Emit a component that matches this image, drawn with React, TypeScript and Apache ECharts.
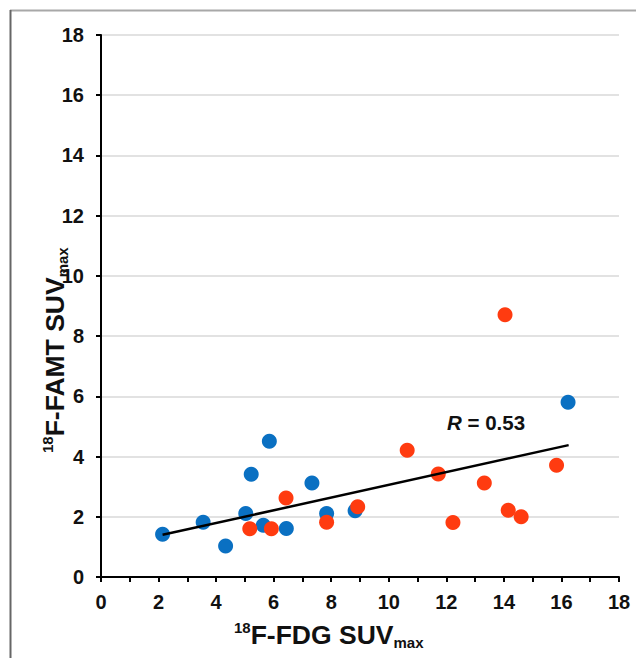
import React, { useEffect, useRef } from "react";
import * as echarts from "echarts";

const blueX = [2.14, 3.55, 4.33, 5.03, 5.22, 5.64, 5.85, 6.44, 7.33, 7.84, 8.83, 16.23];
const blueY = [1.42, 1.82, 1.03, 2.11, 3.41, 1.72, 4.51, 1.61, 3.12, 2.11, 2.2, 5.8];
const redX = [5.17, 5.92, 6.43, 7.84, 8.92, 10.64, 11.72, 12.23, 13.32, 14.04, 14.15, 14.6, 15.83];
const redY = [1.6, 1.6, 2.62, 1.82, 2.33, 4.21, 3.42, 1.81, 3.12, 8.71, 2.22, 2.0, 3.71];
const trendX = [2.14, 16.25];
const trendY = [1.4, 4.38];
const axisMin = 0;
const axisMax = 18;
const axisStep = 2;
const rText = "0.53";

const FONT = "'Liberation Sans', Arial, Helvetica, sans-serif";

export default function App() {
  const ref = useRef<HTMLDivElement>(null);
  useEffect(() => {
    if (!ref.current) return;
    const chart = echarts.init(ref.current, null, { renderer: "svg" });
    const zip = (xs: number[], ys: number[]) => xs.map((x, i) => [x, ys[i]]);
    const titleRich = {
      sup: { fontSize: 15, lineHeight: 15, verticalAlign: "top", fontWeight: "bold", fontFamily: FONT, fill: "#111" },
      main: { fontSize: 26.5, lineHeight: 30, verticalAlign: "middle", fontWeight: "bold", fontFamily: FONT, fill: "#111" },
      sub: { fontSize: 15, lineHeight: 18, verticalAlign: "bottom", fontWeight: "bold", fontFamily: FONT, fill: "#111" },
    };
    chart.setOption({
      animation: false,
      backgroundColor: "#fff",
      grid: { left: 101, right: 17, top: 35, bottom: 81, containLabel: false },
      xAxis: {
        type: "value",
        min: axisMin,
        max: axisMax,
        interval: axisStep,
        axisLine: { show: true, onZero: false, lineStyle: { color: "#000", width: 2 } },
        axisTick: { show: true, inside: false, length: 5, lineStyle: { color: "#000", width: 2 } },
        minorTick: { show: true, splitNumber: 2, length: 5, lineStyle: { color: "#000", width: 2 } },
        splitLine: { show: false },
        axisLabel: { color: "#111", fontSize: 20, fontWeight: "bold", fontFamily: FONT, margin: 15 },
      },
      yAxis: {
        type: "value",
        min: axisMin,
        max: axisMax,
        interval: axisStep,
        axisLine: { show: true, onZero: false, lineStyle: { color: "#000", width: 2 } },
        axisTick: { show: true, inside: false, length: 5, lineStyle: { color: "#000", width: 2 } },
        splitLine: { show: true, lineStyle: { color: "#d9d9d9", width: 1.5 } },
        axisLabel: { color: "#111", fontSize: 20, fontWeight: "bold", fontFamily: FONT, margin: 17 },
      },
      series: [
        {
          type: "scatter",
          data: zip(blueX, blueY),
          symbol: "circle",
          symbolSize: 15,
          itemStyle: { color: "#0a70c2", opacity: 1 },
          z: 3,
        },
        {
          type: "scatter",
          data: zip(redX, redY),
          symbol: "circle",
          symbolSize: 15,
          itemStyle: { color: "#ff3b10", opacity: 1 },
          z: 4,
        },
        {
          type: "line",
          data: zip(trendX, trendY),
          symbol: "none",
          lineStyle: { color: "#000", width: 2.5 },
          z: 5,
        },
      ],
      graphic: [
        { type: "line", shape: { x1: 10, y1: 10.5, x2: 636, y2: 10.5 }, style: { stroke: "#a8a8a8", lineWidth: 2 } },
        { type: "line", shape: { x1: 10.5, y1: 10, x2: 10.5, y2: 658 }, style: { stroke: "#666", lineWidth: 2 } },
        {
          type: "text",
          x: 234,
          y: 619.5,
          style: {
            text: "{sup|18}{main|F-FDG SUV}{sub|max}",
            rich: titleRich,
            align: "left",
            verticalAlign: "top",
          },
        },
        {
          type: "text",
          x: 40,
          y: 453,
          rotation: Math.PI / 2,
          style: {
            text: "{sup|18}{main|F-FAMT SUV}{sub|max}",
            rich: titleRich,
            align: "left",
            verticalAlign: "top",
          },
        },
        {
          type: "text",
          x: 447,
          y: 433,
          style: {
            text: "{i|R}{n| = " + rText + "}",
            rich: {
              i: { fontSize: 20.5, fontStyle: "italic", fontWeight: "bold", fontFamily: FONT, fill: "#111" },
              n: { fontSize: 20.5, fontWeight: "bold", fontFamily: FONT, fill: "#111" },
            },
            align: "left",
            verticalAlign: "bottom",
          },
        },
      ],
    });
    return () => chart.dispose();
  }, []);
  return (
    <div
      ref={ref}
      style={{ position: "absolute", left: 0, top: 0, width: 636, height: 658 }}
    />
  );
}
